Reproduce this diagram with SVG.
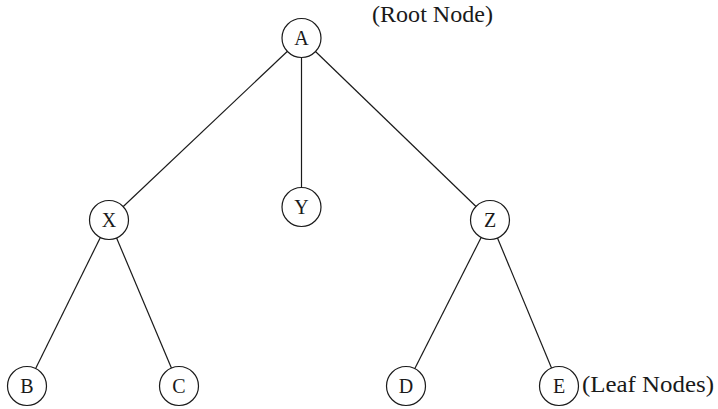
<svg xmlns="http://www.w3.org/2000/svg" width="718" height="409" viewBox="0 0 718 409">
<style>
.edge{stroke:#1a1a1a;stroke-width:1.2;fill:none}
.node circle{fill:#fff;stroke:#1a1a1a;stroke-width:1.2}
.node text{font-family:'Liberation Serif','DejaVu Serif',serif;font-size:20px;fill:#1a1a1a;text-anchor:middle}
.label{font-family:'Liberation Serif','DejaVu Serif',serif;font-size:23px;fill:#1a1a1a}
</style>
<rect width="718" height="409" fill="#fff"/>
<g id="connectors">
<line class="edge" x1="301.5" y1="38" x2="109" y2="220"/>
<line class="edge" x1="301.5" y1="38" x2="301.5" y2="207"/>
<line class="edge" x1="301.5" y1="38" x2="490" y2="220"/>
<line class="edge" x1="109" y1="220" x2="27" y2="386"/>
<line class="edge" x1="109" y1="220" x2="179" y2="386"/>
<line class="edge" x1="490" y1="220" x2="406" y2="386"/>
<line class="edge" x1="490" y1="220" x2="559" y2="386"/>
</g>
<g id="node-A" class="node"><circle cx="301.5" cy="38" r="19.5"/><text x="301.5" y="45">A</text></g>
<g id="node-Y" class="node"><circle cx="301.5" cy="207" r="19.5"/><text x="301.5" y="214">Y</text></g>
<g id="node-X" class="node"><circle cx="109" cy="220" r="19.5"/><text x="109" y="227">X</text></g>
<g id="node-Z" class="node"><circle cx="490" cy="220" r="19.5"/><text x="490" y="227">Z</text></g>
<g id="node-B" class="node"><circle cx="27" cy="386" r="19.5"/><text x="27" y="393">B</text></g>
<g id="node-C" class="node"><circle cx="179" cy="386" r="19.5"/><text x="179" y="393">C</text></g>
<g id="node-D" class="node"><circle cx="406" cy="386" r="19.5"/><text x="406" y="393">D</text></g>
<g id="node-E" class="node"><circle cx="559" cy="386" r="19.5"/><text x="559" y="393">E</text></g>
<text class="label" x="372" y="22" textLength="121" lengthAdjust="spacingAndGlyphs">(Root Node)</text>
<text class="label" x="582" y="392" textLength="132" lengthAdjust="spacingAndGlyphs">(Leaf Nodes)</text>
</svg>
